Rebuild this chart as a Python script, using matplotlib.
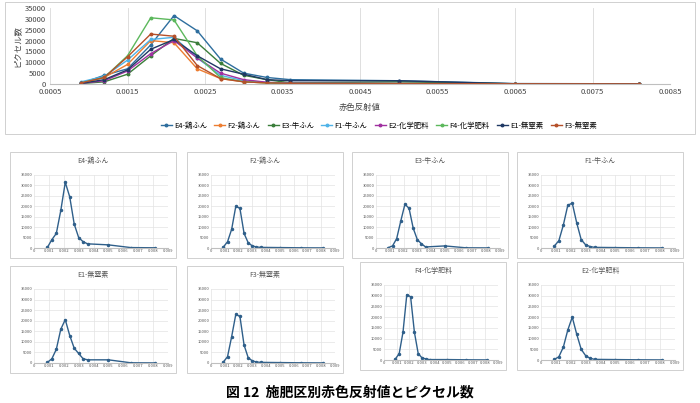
import matplotlib.pyplot as plt
from matplotlib.patches import Rectangle

plt.rcParams['font.family'] = ['Noto Sans CJK JP', 'DejaVu Sans']

# 赤色反射値
x_vals = [0.0009, 0.0012, 0.0015, 0.0018, 0.0021, 0.0024, 0.0027, 0.0030, 0.0033, 0.0036, 0.0050, 0.0065, 0.0081]

names = ['E4-鶏ふん', 'F2-鶏ふん', 'E3-牛ふん', 'F1-牛ふん', 'E2-化学肥料', 'F4-化学肥料', 'E1-無窒素', 'F3-無窒素']
colors = ['#2e6e9e', '#ed7d31', '#3a7d3a', '#4fb3e8', '#a030a0', '#5cb85c', '#1f3864', '#b5502a']

e4 = [300, 4000, 7000, 18000, 31500, 24500, 11500, 5000, 3000, 2000, 1500, 200, 100]
f2 = [500, 3000, 9000, 20000, 19000, 7000, 2500, 1000, 500, 300, 200, 100, 50]
e3 = [200, 1000, 4500, 13000, 21000, 19000, 9500, 4000, 2000, 500, 1000, 100, 50]
f1 = [1000, 3500, 11000, 20500, 21500, 12000, 4000, 1500, 700, 300, 200, 100, 50]
e2 = [300, 1500, 6000, 14000, 20000, 12000, 5000, 2000, 800, 300, 200, 100, 50]
f4 = [500, 3000, 13000, 30500, 29500, 13000, 3000, 1000, 500, 200, 200, 100, 50]
e1 = [300, 2000, 6500, 16000, 20500, 13000, 7000, 4500, 2000, 1500, 1500, 100, 50]
f3 = [500, 3000, 12500, 23000, 22000, 8500, 2500, 1000, 500, 300, 200, 100, 50]
series = dict(zip(names, [e4, f2, e3, f1, e2, f4, e1, f3]))

# order of small panels
panel_order = ['E4-鶏ふん', 'F2-鶏ふん', 'E3-牛ふん', 'F1-牛ふん',
               'E1-無窒素', 'F3-無窒素', 'F4-化学肥料', 'E2-化学肥料']

W, H = 700, 403
fig = plt.figure(figsize=(7, 4.03), dpi=100)

def px(x0, y0, x1, y1):
    return [x0 / W, 1 - y1 / H, (x1 - x0) / W, (y1 - y0) / H]

def frame(x0, y0, x1, y1):
    fig.patches.append(Rectangle((x0 / W, 1 - y1 / H), (x1 - x0) / W, (y1 - y0) / H,
                                 transform=fig.transFigure, fill=False, ec='#d0d0d0', lw=0.7))

# main chart
frame(5, 2, 695, 134)
ax = fig.add_axes(px(50, 8, 670, 84))
for n, c in zip(names, colors):
    ax.plot(x_vals, series[n], color=c, lw=1, marker='o', ms=1.8, label=n)
ax.set_xlim(0.0005, 0.0085)
ax.set_ylim(0, 35000)
ax.set_xticks([0.0005, 0.0015, 0.0025, 0.0035, 0.0045, 0.0055, 0.0065, 0.0075, 0.0085])
ax.set_xticklabels(['0.0005', '0.0015', '0.0025', '0.0035', '0.0045', '0.0055', '0.0065', '0.0075', '0.0085'])
ax.set_yticks(range(0, 35001, 5000))
ax.tick_params(labelsize=5.5, length=0, colors='#444444', pad=3)
ax.grid(axis='x', color='#d9d9d9', lw=0.6)
for s in ['top', 'right', 'left']:
    ax.spines[s].set_visible(False)
ax.spines['bottom'].set_color('#bfbfbf')
ax.set_xlabel('赤色反射値', fontsize=6, color='#444444', labelpad=5)
ax.set_ylabel('ピクセル数', fontsize=6, color='#444444', labelpad=2)
ax.legend(loc='center', bbox_to_anchor=(0.53, -0.55), ncol=8, fontsize=5.3,
          frameon=False, handlelength=1.5, columnspacing=1.0, handletextpad=0.3)

# small panels
boxes = [(10, 152, 176, 258), (187, 152, 343, 258), (352, 152, 508, 258), (517, 152, 683, 258),
         (10, 266, 176, 373), (187, 266, 343, 373), (360, 262, 506, 370), (517, 262, 683, 370)]
for n, (x0, y0, x1, y1) in zip(panel_order, boxes):
    frame(x0, y0, x1, y1)
    a = fig.add_axes(px(x0 + 24, y0 + 23, x1 - 8, y1 - 10))
    a.plot(x_vals, series[n], color='#2f5f8a', lw=1, marker='o', ms=1.5)
    a.set_xlim(0, 0.009)
    a.set_ylim(0, 35000)
    a.set_xticks([i / 1000 for i in range(10)])
    a.set_xticklabels(['0'] + ['%.3f' % (i / 1000) for i in range(1, 10)])
    a.set_yticks(range(0, 35001, 5000))
    a.tick_params(labelsize=3, length=0, colors='#555555', pad=1)
    a.grid(color='#e3e3e3', lw=0.5)
    for s in ['top', 'right', 'left']:
        a.spines[s].set_visible(False)
    a.spines['bottom'].set_color('#bfbfbf')
    fig.text((x0 + x1) / 2 / W, 1 - (y0 + 9) / H, n, fontsize=5, color='#555555',
             ha='center', va='center')

fig.text(0.5, 1 - 392 / H, '図 12  施肥区別赤色反射値とピクセル数', ha='center', va='center',
         fontsize=10, fontweight='bold')

fig.savefig('out.png', dpi=100)
